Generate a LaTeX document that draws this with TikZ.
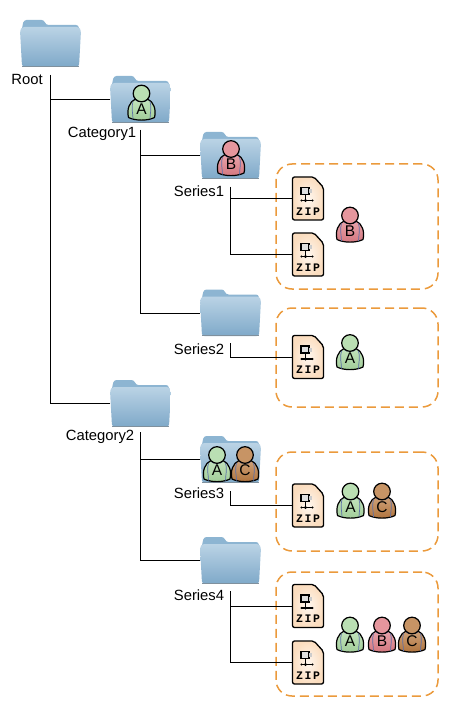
\documentclass[tikz,border=0pt]{standalone}
\usepackage{fontspec}
\setmainfont{Liberation Sans}
\setmonofont{Liberation Mono}
\definecolor{folderlight}{HTML}{BAD3E5}
\definecolor{folderdark}{HTML}{7FA9C9}
\definecolor{folderback}{HTML}{8DB5D2}
\definecolor{boxorange}{HTML}{EB9A3C}
\definecolor{zipfill}{HTML}{FBDDBF}
\definecolor{userA}{HTML}{A9D7A0}
\definecolor{userB}{HTML}{DE7C85}
\definecolor{userC}{HTML}{B9793F}
\definecolor{usersleeve}{HTML}{5C6FA8}
\usetikzlibrary{positioning}
\tikzset{
  folder/.style={minimum width=61pt,minimum height=47pt,inner sep=0pt},
  flabel/.style={inner sep=0pt,font=\fontsize{14.8}{16}\selectfont},
  zipfile/.style={minimum width=32pt,minimum height=43pt,inner sep=0pt},
  group/.style={draw=boxorange,line width=1.5pt,dash pattern=on 9pt off 5pt,rounded corners=16pt},
  link/.style={line width=1pt},
  folderpic/.pic={
    \fill[folderback,rounded corners=2.5pt] (-29,-10) -- (-28,-18.5) -- (-26.5,-23.5) -- (-6.5,-23.5) -- (-4.5,-18.5) -- (28,-18.5) -- (29,-10) -- cycle;
    \shade[top color=folderlight,bottom color=folderdark,rounded corners=2.5pt] (-28.5,-16.5) -- (28.5,-16.5) -- (30.5,-13) -- (28.5,23) -- (-28.5,23) -- (-30.5,-13) -- cycle;
    \fill[gray!60!folderdark] (-28.5,22.3) rectangle (28.5,23.3);
  },
  zippic/.pic={
    \shade[inner color=white!75!zipfill,outer color=zipfill,rounded corners=2pt] (-15.5,-21.5) -- (6,-21.5) -- (15.5,-11) -- (15.5,21.5) -- (-15.5,21.5) -- cycle;
    \draw[line width=1.3pt,rounded corners=2pt] (-15.5,-21.5) -- (6,-21.5) -- (15.5,-11) -- (15.5,21.5) -- (-15.5,21.5) -- cycle;
    \draw[line width=1.5pt,fill=gray!25] (-7,-11) rectangle (1,-4);
    \fill[gray!40] (1,-9.5) rectangle (4,-5.5);
    \draw[line width=1.2pt] (-2.5,-4) -- (-2.5,2) (-7,2) -- (5,2);
    \fill (-2.5,2) circle (1.7pt) (-6.5,2) circle (1.2pt) (4.5,2) circle (1.2pt);
    \node[inner sep=0pt,font=\ttfamily\bfseries\fontsize{11.5}{12}\selectfont] at (0,13) {Z\kern1.6pt I\kern1.6pt P};
  },
  pics/userpic/.style 2 args={code={
    \draw[line width=1.2pt,top color=#2!70!white,bottom color=#2!95!black,line join=round] (-13,15) .. controls (-15,7) and (-12,-1) .. (-6,-3.5) -- (6,-3.5) .. controls (12,-1) and (15,7) .. (13,15) .. controls (6,18.5) and (-6,18.5) .. (-13,15) -- cycle;
    \draw[usersleeve,line width=.7pt] (-8.5,-1) .. controls (-10.5,5) and (-8.5,11) .. (-8.5,16.5) (8.5,-1) .. controls (10.5,5) and (8.5,11) .. (8.5,16.5) (-6,-2.5) .. controls (-3,0) and (3,0) .. (6,-2.5);
    \draw[line width=1.2pt,fill=#2!80!white] (0,-9) circle (8.3pt);
    \node[inner sep=0pt,font=\fontsize{15.5}{16}\selectfont] at (0,6.5) {#1};
  }},
}
\begin{document}
\begin{tikzpicture}[x=1pt,y=-1pt]
  \useasboundingbox (0,0) rectangle (457,711);

  % dashed groups
  \node[group,minimum width=162pt,minimum height=125pt] (group1) at (357,226.5) {};
  \node[group,minimum width=162pt,minimum height=99pt] (group2) at (357,357.5) {};
  \node[group,minimum width=162pt,minimum height=99pt] (group3) at (357,501.5) {};
  \node[group,minimum width=162pt,minimum height=124pt] (group4) at (357,634) {};

  % folders
  \node[folder] (root) at (50.5,43.5) {};
  \node[folder] (cat1) at (140.5,99.5) {};
  \node[folder] (ser1) at (230.5,155.5) {};
  \node[folder] (ser2) at (230.5,313) {};
  \node[folder] (cat2) at (140.5,403.5) {};
  \node[folder] (ser3) at (230.5,459.5) {};
  \node[folder] (ser4) at (230.5,560.5) {};
  \foreach \f in {root,cat1,ser1,ser2,cat2,ser3,ser4}
    \pic at (\f) {folderpic};

  % labels
  \node[flabel] (rootlabel) at (27,79) {Root};
  \node[flabel] (cat1label) at (102,134) {Category1};
  \node[flabel] (ser1label) at (199,191) {Series1};
  \node[flabel] (ser2label) at (199,349) {Series2};
  \node[flabel] (cat2label) at (100,437) {Category2};
  \node[flabel] (ser3label) at (199,493) {Series3};
  \node[flabel] (ser4label) at (199,595) {Series4};

  % stems
  \coordinate (rootstem) at (50.5,75);
  \coordinate (cat1stem) at (140.5,130);
  \coordinate (ser1stem) at (230.5,187);
  \coordinate (ser2stem) at (230.5,343);
  \coordinate (cat2stem) at (140.5,432);
  \coordinate (ser3stem) at (230.5,491);
  \coordinate (ser4stem) at (230.5,591);

  % zip files
  \node[zipfile] (zip1) at (308,198.5) {};
  \node[zipfile] (zip2) at (308,254.5) {};
  \node[zipfile] (zip3) at (308,357) {};
  \node[zipfile] (zip4) at (308,505.5) {};
  \node[zipfile] (zip5) at (308,606) {};
  \node[zipfile] (zip6) at (308,662.5) {};
  \foreach \z in {zip1,zip2,zip3,zip4,zip5,zip6}
    \pic at (\z) {zippic};

  \draw[link] (rootstem) |- (cat1.west);
  \draw[link] (rootstem) |- (cat2.west);
  \draw[link] (cat1stem) |- (ser1.west);
  \draw[link] (cat1stem) |- (ser2.west);
  \draw[link] (cat2stem) |- (ser3.west);
  \draw[link] (cat2stem) |- (ser4.west);
  \draw[link] (ser1stem) |- (zip1.west);
  \draw[link] (ser1stem) |- (zip2.west);
  \draw[link] (ser2stem) |- (zip3.west);
  \draw[link] (ser3stem) |- (zip4.west);
  \draw[link] (ser4stem) |- (zip5.west);
  \draw[link] (ser4stem) |- (zip6.west);

  % users
  \pic at (141.5,102.5) {userpic={A}{userA}};
  \pic at (231,158) {userpic={B}{userB}};
  \pic at (217,464) {userpic={A}{userA}};
  \pic at (245,464) {userpic={C}{userC}};
  \pic at (350,224.5) {userpic={B}{userB}};
  \pic at (350,352) {userpic={A}{userA}};
  \pic at (350.5,500.5) {userpic={A}{userA}};
  \pic at (382,500.5) {userpic={C}{userC}};
  \pic at (350,634.5) {userpic={A}{userA}};
  \pic at (382,634.5) {userpic={B}{userB}};
  \pic at (412,634.5) {userpic={C}{userC}};
\end{tikzpicture}
\end{document}
